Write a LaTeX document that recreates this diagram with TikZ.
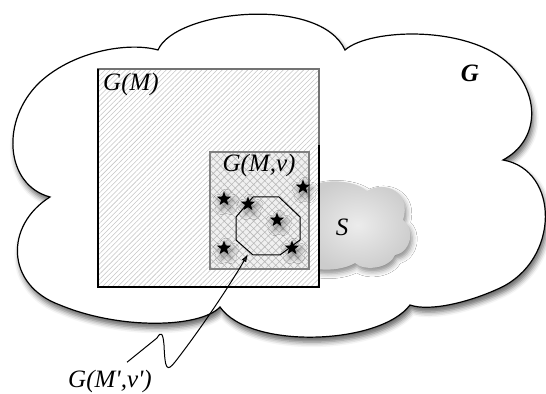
\documentclass[tikz,border=0pt]{standalone}
\usepackage{fontspec}
\setmainfont{Liberation Serif}
\usetikzlibrary{shapes.geometric,patterns.meta,shadows.blur,arrows.meta}

\tikzset{
  lbl/.style={font=\fontsize{12.5}{14}\selectfont\itshape, inner sep=0pt},
  starmark/.style={star, star points=5, star point ratio=2.4, fill=black, inner sep=0pt,
    minimum size=7.5pt,
    blur shadow={shadow xshift=1pt, shadow yshift=-1.8pt, shadow blur radius=3pt, shadow opacity=50}},
}

\begin{document}
\begin{tikzpicture}[x=0.5pt,y=-0.5pt]
\useasboundingbox (0,0) rectangle (546,394);

% the graph G
\draw[line width=0.6pt, fill=white,
  blur shadow={shadow xshift=1pt, shadow yshift=-2.5pt, shadow blur radius=2.5pt, shadow opacity=60}]
  (50,197) .. controls (5,185) and (0,120) .. (40,82)
  .. controls (75,50) and (130,42) .. (158,50)
  .. controls (175,10) and (320,-5) .. (345,50)
  .. controls (370,28) and (470,25) .. (510,65)
  .. controls (540,95) and (540,140) .. (503,160)
  .. controls (560,170) and (560,260) .. (500,288)
  .. controls (470,302) and (430,312) .. (410,305)
  .. controls (380,345) and (250,350) .. (220,307)
  .. controls (200,328) and (120,330) .. (60,305)
  .. controls (5,285) and (5,225) .. (50,197) -- cycle;

% the set S
\path[inner color=gray!15, outer color=gray!40,
  blur shadow={shadow xshift=1pt, shadow yshift=-2pt, shadow blur radius=2.5pt, shadow opacity=45}]
  (300,192) .. controls (315,178) and (352,178) .. (367,191)
  .. controls (385,180) and (412,192) .. (403,220)
  .. controls (415,228) and (412,252) .. (395,255)
  .. controls (390,268) and (365,272) .. (355,263)
  .. controls (340,272) and (310,272) .. (300,262) -- cycle;

% G(M)
\draw[draw=black!55, line width=0.6pt, preaction={fill=white},
  pattern={Lines[angle=45,distance=1.8pt,line width=0.28pt]}, pattern color=gray!45]
  (98,69) rectangle (319,287);
\draw[line width=0.7pt] (319,145) -- (319,287) -- (98,287) -- (98,69);

% G(M,v)
\draw[draw=black!50, line width=0.8pt, preaction={fill=gray!12},
  pattern={Hatch[angle=45,distance=2.6pt,line width=0.3pt]}, pattern color=gray!55]
  (210,152) rectangle (309,269);

% G(M',v')
\draw[line width=0.5pt] (253,197) -- (279,197) -- (300,217) -- (300,240)
  -- (280,255) -- (253,255) -- (236,240) -- (236,217) -- cycle;
\coordinate (tip) at (248,254);

\foreach \p [count=\i] in {(303,187),(224,199),(248,204),(277,220),(224,248),(292,248)}
  \node[starmark] (st\i) at \p {};

\node[lbl] (gm) at (131,84) {G(M)};
\node[lbl] (gmv) at (259,165) {G(M,v)};
\node[lbl, font=\fontsize{12.5}{14}\selectfont\bfseries\itshape] (g) at (470,73) {G};
\node[lbl] (s) at (342,227) {S};
\node[lbl, anchor=base] (gmvp) at (110,388) {G(M\textquotesingle,v\textquotesingle)};

\draw[line width=0.5pt, -{Latex[length=4pt,width=2.6pt]}]
  ([shift={(17,-8)}]gmvp.north) -- (157,338)
  .. controls (161,331) and (163,333) .. (164,345)
  .. controls (165,370) and (167,372) .. (175,362)
  .. controls (200,330) and (230,285) .. (tip);
\end{tikzpicture}
\end{document}
